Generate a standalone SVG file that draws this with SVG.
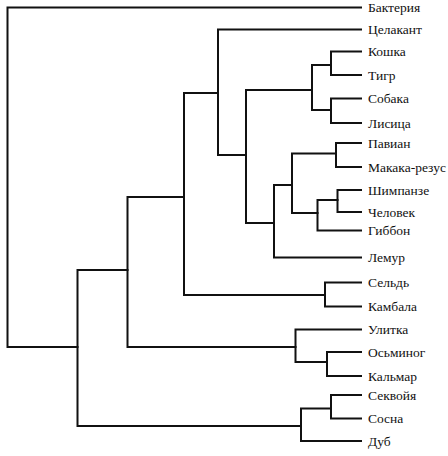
<svg xmlns="http://www.w3.org/2000/svg" width="448" height="456" viewBox="0 0 448 456">
<style>
.e{fill:none;stroke:#111;stroke-width:2;stroke-linecap:square;stroke-linejoin:miter}
.t{font-family:"Liberation Serif","Times New Roman","DejaVu Serif",serif;font-size:13.5px;fill:#111}
</style>
<rect width="448" height="456" fill="#fff"/>
<g id="connectors">
<path class="e" d="M7.5,7.5 H361 M7.5,7.5 V347 H77.5"/>
<path class="e" d="M77.5,270 V426 M77.5,270 H127.5 M77.5,426 H301"/>
<path class="e" d="M127.5,197 V347 H295.5 M127.5,197 H184"/>
<path class="e" d="M184,93 V295 H325 M184,93 H218"/>
<path class="e" d="M218,29.5 V155 H246 M218,29.5 H361"/>
<path class="e" d="M246,90 V223 H274 M246,90 H312"/>
<path class="e" d="M312,65 V110 H331 M312,65 H331"/>
<path class="e" d="M331,51.5 V75 M331,51.5 H361 M331,75 H361"/>
<path class="e" d="M331,98.5 V123 M331,98.5 H361 M331,123 H361"/>
<path class="e" d="M274,185 V257.5 H361 M274,185 H292"/>
<path class="e" d="M292,153.5 V213 H317.5 M292,153.5 H336"/>
<path class="e" d="M336,143 V167 M336,143 H361 M336,167 H361"/>
<path class="e" d="M317.5,200 V230.5 H361 M317.5,200 H337.5"/>
<path class="e" d="M337.5,190 V212 M337.5,190 H361 M337.5,212 H361"/>
<path class="e" d="M325,282.5 V306.5 M325,282.5 H361 M325,306.5 H361"/>
<path class="e" d="M295.5,329.5 V362 H327 M295.5,329.5 H361"/>
<path class="e" d="M327,352 V376 M327,352 H361 M327,376 H361"/>
<path class="e" d="M301,408.5 V441 H361 M301,408.5 H331"/>
<path class="e" d="M331,395 V418.5 M331,395 H361 M331,418.5 H361"/>
</g>
<g id="leaves" class="t">
<text id="n1" x="368" y="12">Бактерия</text>
<text id="n2" x="368" y="34">Целакант</text>
<text id="n3" x="368" y="56">Кошка</text>
<text id="n4" x="368" y="79.5">Тигр</text>
<text id="n5" x="368" y="103">Собака</text>
<text id="n6" x="368" y="127.5">Лисица</text>
<text id="n7" x="368" y="147.5">Павиан</text>
<text id="n8" x="368" y="171.5">Макака-резус</text>
<text id="n9" x="368" y="194.5">Шимпанзе</text>
<text id="n10" x="368" y="216.5">Человек</text>
<text id="n11" x="368" y="235">Гиббон</text>
<text id="n12" x="368" y="262">Лемур</text>
<text id="n13" x="368" y="287">Сельдь</text>
<text id="n14" x="368" y="311">Камбала</text>
<text id="n15" x="368" y="334">Улитка</text>
<text id="n16" x="368" y="356.5">Осьминог</text>
<text id="n17" x="368" y="380.5">Кальмар</text>
<text id="n18" x="368" y="399.5">Секвойя</text>
<text id="n19" x="368" y="423">Сосна</text>
<text id="n20" x="368" y="445.5">Дуб</text>
</g>
</svg>
